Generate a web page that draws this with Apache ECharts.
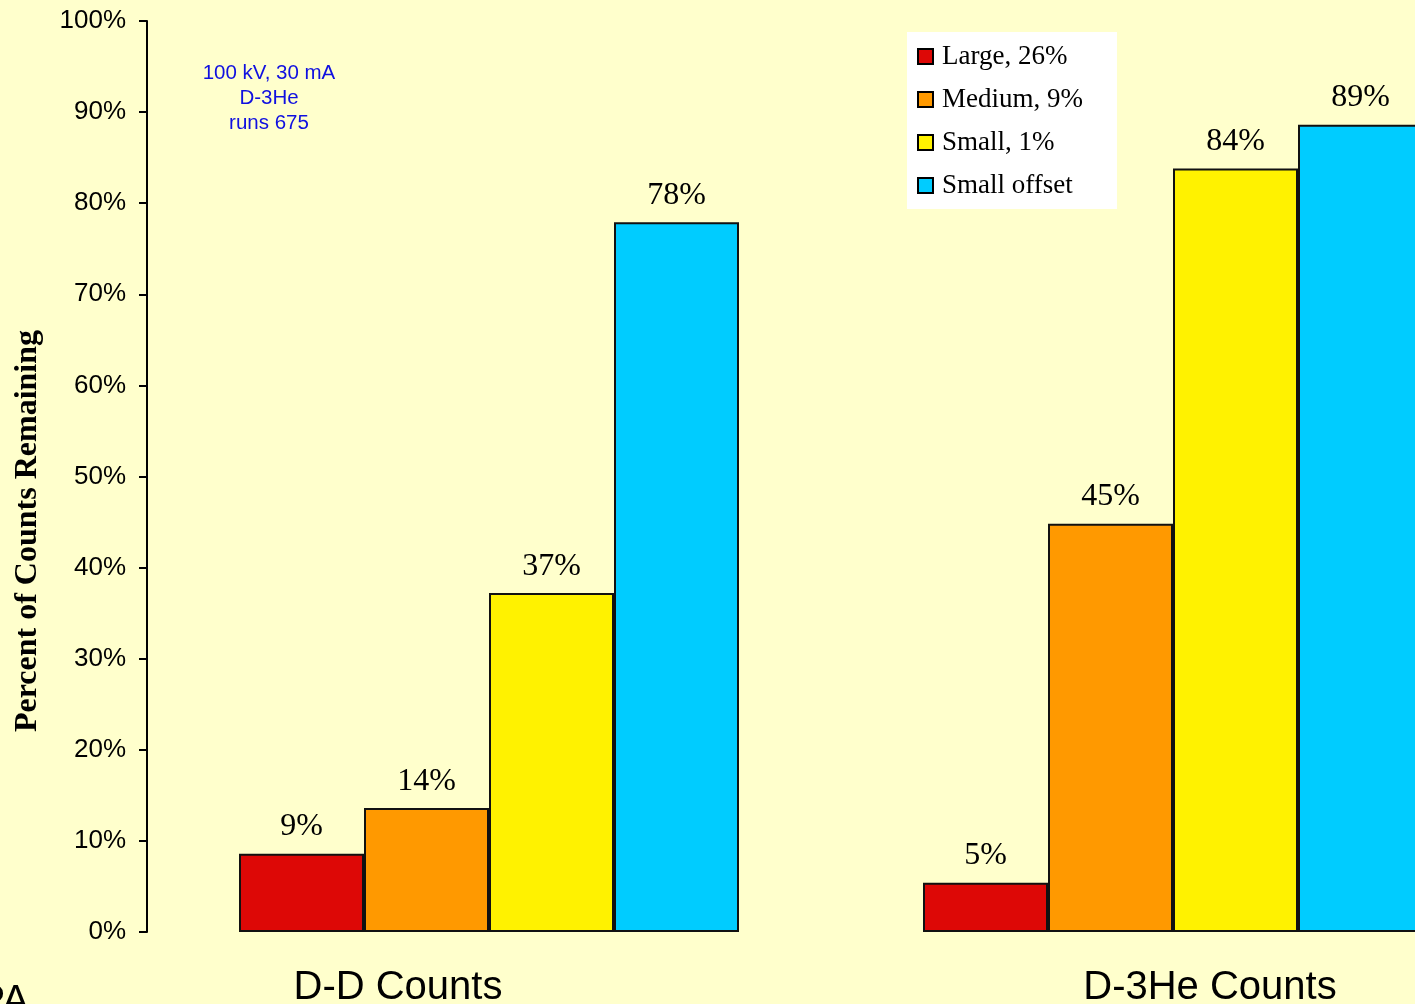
<!DOCTYPE html>
<html>
<head>
<meta charset="utf-8">
<script src="https://cdn.jsdelivr.net/npm/echarts@6/dist/echarts.min.js"></script>
<style>
  html, body { margin: 0; padding: 0; background: #FFFFCC; overflow: hidden; }
  /* the plot runs past the right edge of the page, so the canvas is wider than the window */
  #chart { width: 1516px; height: 1004px; }
</style>
</head>
<body>
<div id="chart"></div>
<script>
// Percent of counts remaining for each shield size, per reaction channel
const categories = ['D-D Counts', 'D-3He Counts'];
const seriesNames = ['Large, 26%', 'Medium, 9%', 'Small, 1%', 'Small offset'];
const largeValues = [8.6, 5.4];
const mediumValues = [13.6, 44.8];
const smallValues = [37.2, 83.8];
const offsetValues = [77.9, 88.6];
const seriesColors = ['#DD0806', '#FF9900', '#FFF200', '#00CCFF'];
const yTicks = [0, 10, 20, 30, 40, 50, 60, 70, 80, 90, 100];
const yTitle = 'Percent of Counts Remaining';
const runNote = ['100 kV, 30 mA', 'D-3He', 'runs 675'];

const chart = echarts.init(document.getElementById('chart'));

const valueSets = [largeValues, mediumValues, smallValues, offsetValues];
const serif = '"Liberation Serif", "Times New Roman", serif';
const sans = '"Liberation Sans", Arial, sans-serif';

const series = seriesNames.map((name, i) => ({
  name: name,
  type: 'bar',
  data: valueSets[i],
  barWidth: 125,
  barGap: '0%',
  itemStyle: { color: seriesColors[i], borderColor: '#111', borderWidth: 2 },
  label: {
    show: true,
    position: 'top',
    distance: 11,
    formatter: p => Math.round(p.value) + '%',
    fontFamily: serif,
    fontSize: 32,
    color: '#000'
  },
  emphasis: { disabled: true }
}));

chart.setOption({
  backgroundColor: '#FFFFCC',
  animation: false,
  grid: { left: 147, top: 21, width: 1368, height: 911, containLabel: false },
  legend: {
    orient: 'vertical',
    left: 907,
    top: 32,
    backgroundColor: '#FFFFFF',
    padding: [11, 34, 10, 10],
    itemWidth: 15,
    itemHeight: 15,
    itemGap: 16,
    icon: 'rect',
    itemStyle: { borderColor: '#000', borderWidth: 2 },
    textStyle: { fontFamily: serif, fontSize: 27, color: '#000', lineHeight: 24, padding: [0, 0, 0, 4] },
    data: seriesNames
  },
  xAxis: {
    type: 'category',
    data: categories,
    axisLine: { show: false },
    axisTick: { show: false },
    axisLabel: { show: false },
    splitLine: { show: false }
  },
  yAxis: {
    type: 'value',
    min: yTicks[0],
    max: yTicks[yTicks.length - 1],
    interval: yTicks[1] - yTicks[0],
    axisLine: { show: true, lineStyle: { color: '#000', width: 2 } },
    axisTick: { show: true, inside: false, length: 8, lineStyle: { color: '#000', width: 2 } },
    axisLabel: { formatter: '{value}%', fontFamily: sans, fontSize: 26, color: '#000', margin: 21 },
    splitLine: { show: false }
  },
  series: series,
  graphic: [
    {
      type: 'text',
      x: 28, y: 531,
      rotation: Math.PI / 2,
      style: {
        text: yTitle, textAlign: 'center', textVerticalAlign: 'middle',
        fontFamily: serif, fontSize: 32, fontWeight: 'bold', fill: '#000'
      }
    },
    {
      type: 'text',
      x: 269, y: 61,
      style: {
        text: runNote.join('\n'),
        textAlign: 'center',
        fontFamily: sans,
        fontSize: 20.5,
        lineHeight: 25,
        fill: '#1010E0'
      }
    },
    {
      type: 'text',
      x: 398, y: 1008,
      style: { text: categories[0], textAlign: 'center', textVerticalAlign: 'bottom', fontFamily: sans, fontSize: 40, fill: '#000' }
    },
    {
      type: 'text',
      x: 1210, y: 1008,
      style: { text: categories[1], textAlign: 'center', textVerticalAlign: 'bottom', fontFamily: sans, fontSize: 40, fill: '#000' }
    },
    {
      type: 'text',
      x: 29, y: 1022,
      style: { text: 'PA', textAlign: 'right', textVerticalAlign: 'bottom', fontFamily: sans, fontSize: 40, fill: '#000' }
    }
  ]
});
</script>
</body>
</html>
